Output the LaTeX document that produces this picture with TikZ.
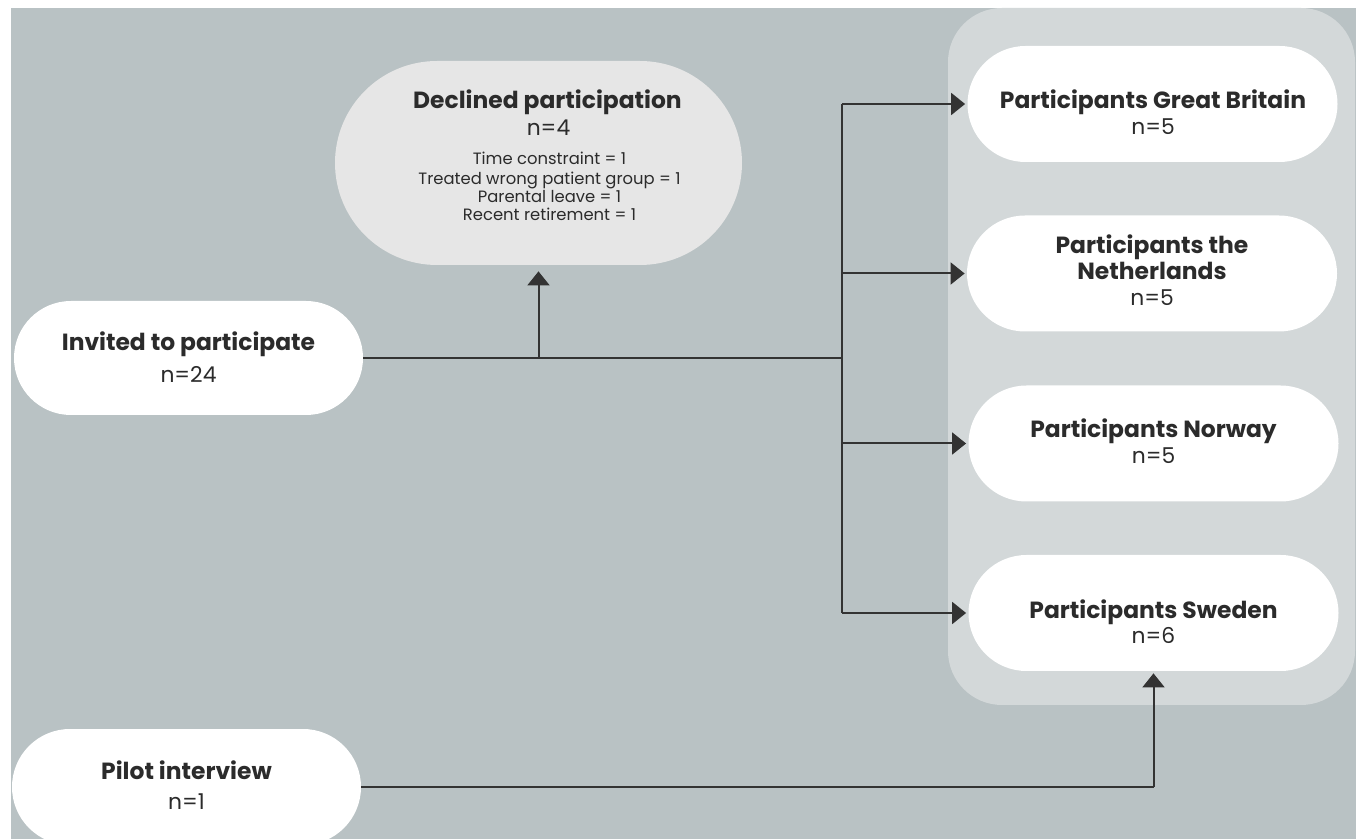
\documentclass[tikz,border=0pt]{standalone}
\usepackage{fontspec}
\setmainfont{Poppins}
\usetikzlibrary{arrows.meta}
\definecolor{bgc}{HTML}{B9C2C4}
\definecolor{panelc}{HTML}{D3D8D9}
\definecolor{declc}{HTML}{E6E6E6}
\definecolor{inkc}{HTML}{2B2B2B}
\definecolor{linec}{HTML}{333333}
\tikzset{
  pill/.style={fill=white, draw=none, rounded corners=29pt, minimum width=185pt, minimum height=58pt, inner sep=0pt},
  ttl/.style={anchor=base, inner sep=0pt, text=inkc, font=\fontsize{11.7}{13}\selectfont\bfseries},
  cnt/.style={anchor=base, inner sep=0pt, text=inkc, font=\fontsize{10.9}{12}\selectfont},
  det/.style={anchor=base, inner sep=0pt, text=inkc, font=\fontsize{8.2}{9}\selectfont},
  conn/.style={draw=linec, line width=1pt},
  arr/.style={conn, -{Triangle[length=7pt, width=11pt]}}
}
\begin{document}
\begin{tikzpicture}[x=0.5pt, y=-0.5pt]
\useasboundingbox (0,0) rectangle (1356,839);
\fill[white] (0,0) rectangle (1356,839);
\fill[bgc] (11,8) rectangle (1356,839);
\fill[panelc, rounded corners=27pt] (948,8) rectangle (1355,705);

% boxes
\node[pill, fill=declc, rounded corners=51pt, minimum width=203.5pt, minimum height=102pt] (decl) at (538.5,163) {};
\node[pill, minimum width=174.5pt, minimum height=57pt, rounded corners=28.5pt] (inv) at (188.5,358) {};
\node[pill, minimum width=174.5pt] (pil) at (186.5,787) {};
\node[pill] (gb) at (1152.5,104) {};
\node[pill] (nl) at (1152,273.5) {};
\node[pill] (no) at (1153.5,443.5) {};
\node[pill] (sw) at (1153.5,613) {};

% texts
\node[ttl] (declT) at (547.5,109) {Declined participation};
\node[cnt] (declN) at (548.5,136) {n=4};
\node[det] (declA) at (549.5,165) {Time constraint = 1};
\node[det] (declB) at (549.5,185) {Treated wrong patient group = 1};
\node[det] (declC) at (549.5,203) {Parental leave = 1};
\node[det] (declD) at (549.5,221) {Recent retirement = 1};

\node[ttl] (invT) at (188.5,351) {Invited to participate};
\node[cnt] (invN) at (188.5,383) {n=24};

\node[ttl] (pilT) at (186.5,779) {Pilot interview};
\node[cnt] (pilN) at (186.5,809) {n=1};

\node[ttl] (gbT) at (1153,109) {Participants Great Britain};
\node[cnt] (gbN) at (1153,135) {n=5};

\node[ttl] (nlT) at (1152,254) {Participants the};
\node[ttl] (nlT2) at (1152,280) {Netherlands};
\node[cnt] (nlN) at (1152,306) {n=5};

\node[ttl] (noT) at (1153.5,438) {Participants Norway};
\node[cnt] (noN) at (1153.5,464) {n=5};

\node[ttl] (swT) at (1153.5,618) {Participants Sweden};
\node[cnt] (swN) at (1153.5,644) {n=6};

% connectors
\coordinate (hub) at (842,358);
\coordinate (split) at (decl.south |- inv.east);
\coordinate (vtop) at (hub |- gb.west);
\coordinate (vbot) at (hub |- sw.west);
\coordinate (pturn) at (sw.south |- pil.east);

\draw[conn] (inv.east) -- (hub);
\draw[arr, shorten >=3pt] (split) -- (decl.south);
\draw[conn] (vtop) -- (vbot);
\draw[arr, shorten >=1pt] (vtop) -- (gb.west);
\draw[arr, shorten >=1pt] (hub |- nl.west) -- (nl.west);
\draw[arr, shorten >=1pt] (hub |- no.west) -- (no.west);
\draw[arr, shorten >=1pt] (vbot) -- (sw.west);
\draw[conn] (pil.east) -- (pturn);
\draw[arr, shorten >=1pt] (pturn) -- (sw.south);
\end{tikzpicture}
\end{document}
